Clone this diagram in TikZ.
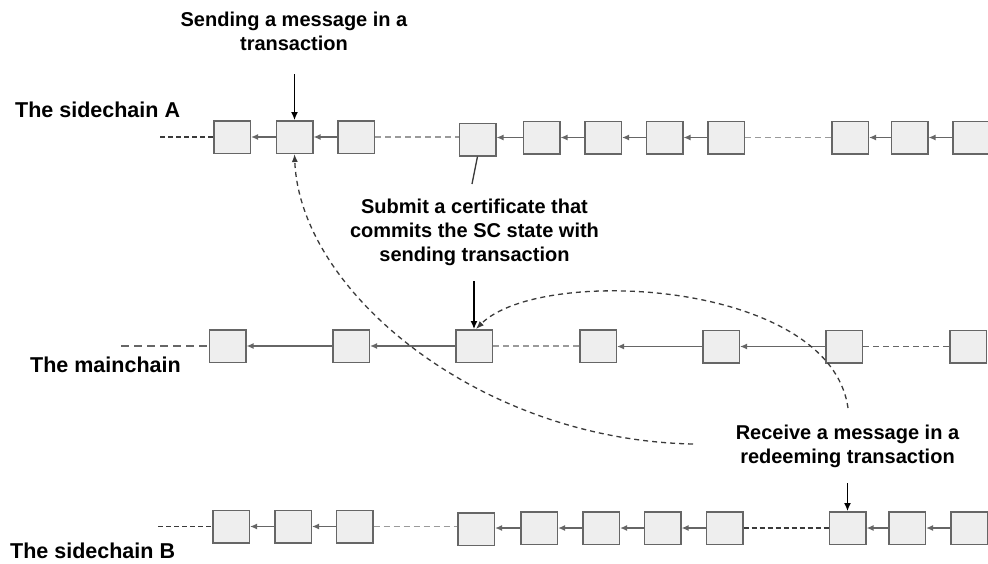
\documentclass[tikz,border=0pt]{standalone}
\usepackage{fontspec}
\setmainfont{Liberation Sans}
\usetikzlibrary{arrows.meta}
\definecolor{boxfill}{HTML}{EEEEEE}
\definecolor{boxline}{HTML}{666666}
\definecolor{lightdash}{HTML}{9A9A9A}
\definecolor{darkdash}{HTML}{3A3A3A}
\begin{document}
\begin{tikzpicture}[x=1pt,y=-1pt,
  blk/.style={draw=boxline, fill=boxfill, line width=1.5pt, minimum width=36.5pt, minimum height=32.5pt, inner sep=0pt},
  link/.style={draw=boxline, line width=1.5pt, -{Latex[length=7pt,width=6pt]}},
  gap/.style={draw=lightdash, line width=1.5pt, dash pattern=on 6pt off 4pt},
  tail/.style={draw=darkdash, line width=1.1pt, dash pattern=on 5pt off 3pt},
  tailm/.style={draw=boxline, line width=1.3pt, dash pattern=on 8pt off 5pt},
  pointer/.style={draw=black, line width=1.3pt, -{Latex[length=8pt,width=7pt]}},
  jump/.style={draw=darkdash, line width=1.3pt, dash pattern=on 5pt off 4pt, -{Latex[length=8pt,width=6pt]}},
  lbl/.style={inner sep=0pt, font=\fontsize{21.5}{26}\selectfont\bfseries},
  capt/.style={inner sep=0pt, align=center, font=\fontsize{20}{24}\selectfont\bfseries}
]
\useasboundingbox (0,0) rectangle (988,563);

% ---- sidechain A ----
\node[blk] (a1) at (232,137) {};
\node[blk] (a2) at (294.5,137) {};
\node[blk] (a3) at (356,137) {};
\node[blk] (a4) at (477.5,139.5) {};
\node[blk] (a5) at (541.5,137.5) {};
\node[blk] (a6) at (603,137.5) {};
\node[blk] (a7) at (664.5,137.5) {};
\node[blk] (a8) at (726,137.5) {};
\node[blk] (a9) at (850,137.5) {};
\node[blk] (a10) at (909.5,137.5) {};
\node[blk] (a11) at (971,137.5) {};
\coordinate (a0) at (160,137);
\draw[tail] (a0) -- (a1.west);
\draw[link] (a2.west) -- (a1.east);
\draw[link] (a3.west) -- (a2.east);
\draw[gap] (a3.east) -- (a4.west |- a3.east);
\draw[link] (a5.west) -- (a4.east |- a5.west);
\draw[link] (a6.west) -- (a5.east);
\draw[link] (a7.west) -- (a6.east);
\draw[link] (a8.west) -- (a7.east);
\draw[gap] (a8.east) -- (a9.west);
\draw[link] (a10.west) -- (a9.east);
\draw[link] (a11.west) -- (a10.east);

% ---- mainchain ----
\node[blk] (m1) at (227.5,346) {};
\node[blk] (m2) at (351,346) {};
\node[blk] (m3) at (474,346) {};
\node[blk] (m4) at (598,346) {};
\node[blk] (m5) at (721,346.5) {};
\node[blk] (m6) at (844,346.5) {};
\node[blk] (m7) at (968,346.5) {};
\coordinate (m0) at (121,346);
\draw[tailm] (m0) -- (m1.west);
\draw[link] (m2.west) -- (m1.east);
\draw[link] (m3.west) -- (m2.east);
\draw[gap] (m3.east) -- (m4.west);
\draw[link] (m5.west) -- (m4.east |- m5.west);
\draw[link] (m6.west) -- (m5.east);
\draw[gap, draw=boxline] (m6.east) -- (m7.west);

% ---- sidechain B ----
\node[blk] (b1) at (231,526.5) {};
\node[blk] (b2) at (293,526.5) {};
\node[blk] (b3) at (354.5,526.5) {};
\node[blk] (b4) at (476,529) {};
\node[blk] (b5) at (539,528) {};
\node[blk] (b6) at (601,528) {};
\node[blk] (b7) at (662.5,528) {};
\node[blk] (b8) at (724.5,528) {};
\node[blk] (b9) at (847.5,528) {};
\node[blk] (b10) at (907,528) {};
\node[blk] (b11) at (969,528) {};
\coordinate (b0) at (158,526.5);
\draw[tail] (b0) -- (b1.west);
\draw[link] (b2.west) -- (b1.east);
\draw[link] (b3.west) -- (b2.east);
\draw[gap] (b3.east) -- (b4.west |- b3.east);
\draw[link] (b5.west) -- (b4.east |- b5.west);
\draw[link] (b6.west) -- (b5.east);
\draw[link] (b7.west) -- (b6.east);
\draw[link] (b8.west) -- (b7.east);
\draw[tail] (b8.east) -- (b9.west);
\draw[link] (b10.west) -- (b9.east);
\draw[link] (b11.west) -- (b10.east);

% ---- labels ----
\node[lbl, anchor=base west] (la) at (15,117) {The sidechain A};
\node[lbl, anchor=base west] (lm) at (30,372) {The mainchain};
\node[lbl, anchor=base west] (lb) at (10,558) {The sidechain B};

% ---- captions (base = last line) ----
\node[capt, anchor=base] (ts) at (294,50) {Sending a message in a\\transaction};
\node[capt, anchor=base] (tc) at (474.5,261) {Submit a certificate that\\commits the SC state with\\sending transaction};
\node[capt, anchor=base] (tr) at (847.5,463) {Receive a message in a\\redeeming transaction};

% ---- pointers ----
\coordinate (ps) at (294.5,74);
\draw[pointer] (ps) -- (a2.north);
\coordinate (pc) at (474,281);
\draw[pointer] (pc) -- (m3.north);
\coordinate (pr) at (847.5,483);
\draw[pointer] (pr) -- (b9.north);
\coordinate (cl) at (472,184);
\draw[draw=darkdash, line width=1.3pt] (a4.south) -- (cl);

% ---- message paths ----
\coordinate (j1) at (693,444);
\draw[jump] (j1) .. controls (480,440) and (300,292) .. (a2.south);
\coordinate (j2) at (848,408);
\draw[jump] (j2) .. controls (830,280) and (540,265) .. ([xshift=2pt]m3.north);
\end{tikzpicture}
\end{document}
